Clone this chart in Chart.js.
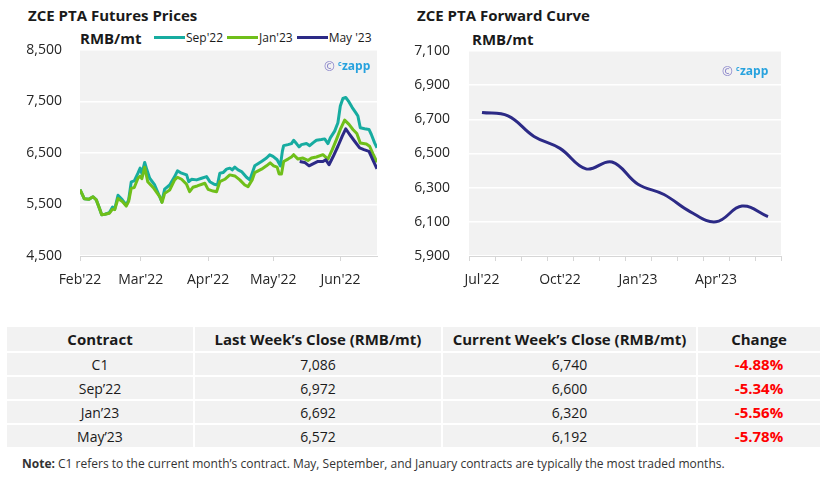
<!DOCTYPE html>
<html>
<head>
<meta charset="utf-8">
<script src="https://cdn.jsdelivr.net/npm/chart.js@4.4.1/dist/chart.umd.min.js"></script>
<style>
body { margin: 0; width: 833px; height: 478px; background: #fff; position: relative; overflow: hidden;
       font-family: "Open Sans", sans-serif; color: #1a1a1a; }
.ttl { position: absolute; font-weight: 700; font-size: 15px; white-space: nowrap; }
.unit { position: absolute; font-weight: 700; font-size: 15px; white-space: nowrap; }
#legend { position: absolute; left: 154px; top: 29px; font-size: 12px; display: flex; align-items: center; white-space: nowrap; }
#legend .sw { display: inline-block; width: 31px; height: 3px; margin-right: 1px; }
#legend .it { display: flex; align-items: center; margin-right: 4px; }
canvas { position: absolute; top: 0; }
#tbl { position: absolute; left: 5px; top: 325px; border-collapse: collapse; }
#tbl th, #tbl td { background: #f2f2f2; border: 2px solid #fff; text-align: center; padding: 0; }
#tbl th { font-size: 15px; font-weight: 700; height: 24px; }
#tbl td { font-size: 14px; height: 22px; }
#tbl td.chg { color: #ff0000; font-weight: 700; font-size: 15px; }
#note { position: absolute; left: 22px; top: 455px; font-size: 12px; color: #333; white-space: nowrap; }
</style>
</head>
<body>
<div class="ttl" style="left:28px;top:5px">ZCE PTA Futures Prices</div>
<div class="unit" style="left:80px;top:28px">RMB/mt</div>
<div id="legend"></div>
<div class="ttl" style="left:417px;top:5px">ZCE PTA Forward Curve</div>
<div class="unit" style="left:472px;top:29px">RMB/mt</div>
<canvas id="futures" width="400" height="300" style="left:0"></canvas>
<canvas id="curve" width="423" height="300" style="left:410px"></canvas>
<table id="tbl"></table>
<div id="note"><b>Note:</b> C1 refers to the current month’s contract. May, September, and January contracts are typically the most traded months.</div>
<script>
// futures chart: x = days since 1 Feb 2022
const monthTickDays = [0, 28, 59, 89, 120];
const monthTickLabels = ["Feb'22", "Mar'22", "Apr'22", "May'22", "Jun'22"];

const sepDays = [0, 1, 2, 4, 6, 7.5, 9, 10, 11.5, 13.5, 15, 16, 17.5, 19.5, 21.3, 22.4, 23.6, 25, 26.7, 27.7, 28.5, 29.8, 30.8, 32.1, 34.4, 36.7, 37.7, 39, 41.3, 43.6, 44.9, 46.8, 49.1, 50.1, 51.4, 53.7, 56, 58.3, 59.8, 61.8, 63.3, 64.4, 65.9, 67.5, 69, 70.1, 71.3, 72.8, 74.4, 76.7, 78.2, 79.3, 80.5, 83.6, 85.9, 87.4, 88.9, 90.8, 92.3, 93.2, 93.8, 95.8, 97.4, 98.4, 99.7, 100.9, 102, 104.3, 105.8, 107.3, 108.9, 111.2, 112.7, 114.2, 115.3, 117.3, 118.8, 119.9, 121.1, 122.4, 123.9, 125.4, 127, 128, 129.1, 131.1, 133.1, 134.2, 135.7, 136.8];
const sepValues = [5790, 5700, 5610, 5600, 5650, 5590, 5420, 5300, 5310, 5340, 5450, 5410, 5680, 5590, 5490, 5590, 5940, 5960, 6108, 6206, 6100, 6316, 6173, 6010, 5879, 5650, 5552, 5800, 5879, 6041, 6153, 6108, 6075, 5943, 5990, 5978, 6010, 6041, 5943, 5892, 5880, 6108, 6120, 6186, 6206, 6173, 6225, 6173, 6140, 6029, 5978, 6108, 6251, 6336, 6402, 6464, 6434, 6369, 6251, 6532, 6643, 6663, 6683, 6747, 6683, 6618, 6663, 6683, 6643, 6696, 6747, 6761, 6774, 6683, 6794, 6924, 7088, 7413, 7558, 7578, 7492, 7382, 7284, 7218, 6990, 6970, 6957, 6859, 6696, 6600];

const janDays = [0, 1, 2, 4, 6, 7.5, 9, 10, 11.5, 13.5, 15, 16, 17.5, 19.5, 21.3, 22.4, 23.6, 25, 26.7, 27.7, 28.5, 29.8, 31.2, 34, 36.8, 37.8, 39, 41.3, 43.6, 44.9, 46.8, 49.1, 50.5, 52, 54, 57.5, 59, 61.3, 62.9, 64.4, 66.7, 69, 71.3, 73.6, 75.9, 77.4, 79.3, 80.5, 83.6, 85.9, 87.6, 89.2, 90.8, 91.7, 92.8, 93.8, 95.8, 97.4, 98.4, 100.4, 102.7, 105, 106.6, 108.9, 111.9, 114.2, 116.2, 118.1, 119.9, 121.9, 123.9, 125.7, 127.5, 129.1, 131.9, 133.4, 134.9, 136.8];
const janValues = [5790, 5700, 5610, 5600, 5650, 5590, 5420, 5300, 5310, 5330, 5410, 5400, 5617, 5560, 5470, 5560, 5814, 5830, 6010, 6050, 6000, 6225, 5943, 5814, 5650, 5540, 5716, 5782, 5977, 6029, 5990, 5892, 5748, 5834, 5860, 5912, 5794, 5761, 5748, 5943, 5990, 6075, 6055, 5978, 5879, 5847, 5978, 6120, 6186, 6251, 6310, 6251, 6225, 6094, 6094, 6336, 6382, 6422, 6467, 6382, 6402, 6356, 6402, 6422, 6467, 6382, 6565, 6761, 6957, 7139, 7055, 6957, 6879, 6696, 6676, 6631, 6487, 6320];

const mayDays = [101.2, 103.5, 105.5, 107.3, 109.6, 111.9, 113.2, 114.7, 116.5, 118.8, 120.8, 122.4, 124.2, 126.5, 128.8, 130.8, 133.1, 135.2, 136.8];
const mayValues = [6336, 6317, 6251, 6290, 6336, 6336, 6369, 6271, 6422, 6631, 6826, 6970, 6859, 6728, 6598, 6565, 6532, 6336, 6192];

const seriesNames = ["Sep'22", "Jan'23", "May '23"];
const seriesColors = ["#17aca0", "#6fbf1a", "#2c2a86"];

// forward curve
const curveMonths = ["Jul'22", "Aug'22", "Sep'22", "Oct'22", "Nov'22", "Dec'22", "Jan'23", "Feb'23", "Mar'23", "Apr'23", "May'23", "Jun'23"];
const curveValues = [6740, 6720, 6600, 6530, 6410, 6450, 6320, 6260, 6160, 6100, 6192, 6130];

// table
const contracts = ["C1", "Sep’22", "Jan’23", "May’23"];
const lastClose = [7086, 6972, 6692, 6572];
const currClose = [6740, 6600, 6320, 6192];
const changePct = [-4.88, -5.34, -5.56, -5.78];

const fontTick = { family: "Open Sans", size: 14 };
const tickColor = "#262626";

const plotBg = {
  id: 'plotBg',
  beforeDraw(chart) {
    const { ctx, chartArea: a } = chart;
    ctx.save();
    ctx.fillStyle = '#f2f2f2';
    ctx.fillRect(a.left, a.top, a.right - a.left, a.bottom - a.top);
    ctx.restore();
  }
};

const czappMark = {
  id: 'czappMark',
  afterDraw(chart, args, opts) {
    const { ctx, chartArea: a } = chart;
    const x = a.right - opts.dx, y = a.top + opts.dy;
    ctx.save();
    ctx.textBaseline = 'middle';
    ctx.font = '13px "Open Sans"';
    ctx.fillStyle = '#8782c9';
    ctx.fillText('©', x, y);
    ctx.fillStyle = '#27a2de';
    ctx.font = 'bold 7px "Open Sans"';
    ctx.fillText('c', x + 14, y - 3);
    ctx.font = 'bold 12px "Open Sans"';
    ctx.fillText('zapp', x + 18, y);
    ctx.restore();
  }
};

// legend (html)
const legendEl = document.getElementById('legend');
seriesNames.forEach((n, i) => {
  const it = document.createElement('span');
  it.className = 'it';
  it.innerHTML = `<span class="sw" style="background:${seriesColors[i]}"></span>${n}`;
  legendEl.appendChild(it);
});

function pts(xs, ys) { return xs.map((x, i) => ({ x: x, y: ys[i] })); }

new Chart(document.getElementById('futures'), {
  type: 'line',
  data: {
    datasets: [
      { label: seriesNames[0], data: pts(sepDays, sepValues), borderColor: seriesColors[0], order: 3 },
      { label: seriesNames[1], data: pts(janDays, janValues), borderColor: seriesColors[1], order: 2 },
      { label: seriesNames[2], data: pts(mayDays, mayValues), borderColor: seriesColors[2], order: 1 }
    ]
  },
  options: {
    responsive: false,
    animation: false,
    layout: { padding: { top: 50, right: 23, left: 0, bottom: 0 } },
    elements: { point: { radius: 0 }, line: { borderWidth: 3, tension: 0, borderJoinStyle: 'round' } },
    plugins: { legend: { display: false }, tooltip: { enabled: false }, czappMark: { dx: 53, dy: 17 } },
    scales: {
      x: {
        type: 'linear', min: 0, max: 136.8,
        afterBuildTicks: s => { s.ticks = monthTickDays.map(v => ({ value: v })); },
        afterFit: s => { s.height = 44; },
        ticks: { font: fontTick, color: tickColor, padding: 11, maxRotation: 0, autoSkip: false,
                 callback: v => monthTickLabels[monthTickDays.indexOf(v)] },
        grid: { drawOnChartArea: false, tickLength: 5, color: '#d6d6d6' },
        border: { color: '#d6d6d6' }
      },
      y: {
        min: 4500, max: 8500,
        afterFit: s => { s.width = 80; },
        ticks: { stepSize: 1000, font: fontTick, color: tickColor, padding: 18 },
        grid: { color: '#ffffff', lineWidth: 1.5, drawTicks: false },
        border: { display: false }
      }
    }
  },
  plugins: [plotBg, czappMark]
});

new Chart(document.getElementById('curve'), {
  type: 'line',
  data: {
    labels: curveMonths,
    datasets: [{ data: curveValues, borderColor: seriesColors[2], borderWidth: 3, tension: 0.4 }]
  },
  options: {
    responsive: false,
    animation: false,
    layout: { padding: { top: 51, right: 52, left: 0, bottom: 0 } },
    elements: { point: { radius: 0 } },
    plugins: { legend: { display: false }, tooltip: { enabled: false }, czappMark: { dx: 59, dy: 21 } },
    scales: {
      x: {
        offset: true,
        afterFit: s => { s.height = 44; },
        ticks: { font: fontTick, color: tickColor, padding: 11, maxRotation: 0, autoSkip: false,
                 callback: (v, i) => (i % 3 === 0 ? curveMonths[i] : '') },
        grid: { drawOnChartArea: false, tickLength: 5, color: '#d6d6d6', offset: true },
        border: { color: '#d6d6d6' }
      },
      y: {
        min: 5900, max: 7100,
        afterFit: s => { s.width = 59; },
        ticks: { stepSize: 200, font: fontTick, color: tickColor, padding: 19 },
        grid: { color: '#ffffff', lineWidth: 1.5, drawTicks: false },
        border: { display: false }
      }
    }
  },
  plugins: [plotBg, czappMark]
});

// table
const colW = [186, 246, 253, 122];
const tbl = document.getElementById('tbl');
const head = ["Contract", "Last Week’s Close (RMB/mt)", "Current Week’s Close (RMB/mt)", "Change"];
let html = '<tr>' + head.map((h, i) => `<th style="width:${colW[i]}px">${h}</th>`).join('') + '</tr>';
contracts.forEach((c, i) => {
  html += `<tr><td>${c}</td><td>${lastClose[i].toLocaleString('en-US')}</td><td>${currClose[i].toLocaleString('en-US')}</td><td class="chg">${changePct[i].toFixed(2)}%</td></tr>`;
});
tbl.innerHTML = html;
</script>
</body>
</html>
